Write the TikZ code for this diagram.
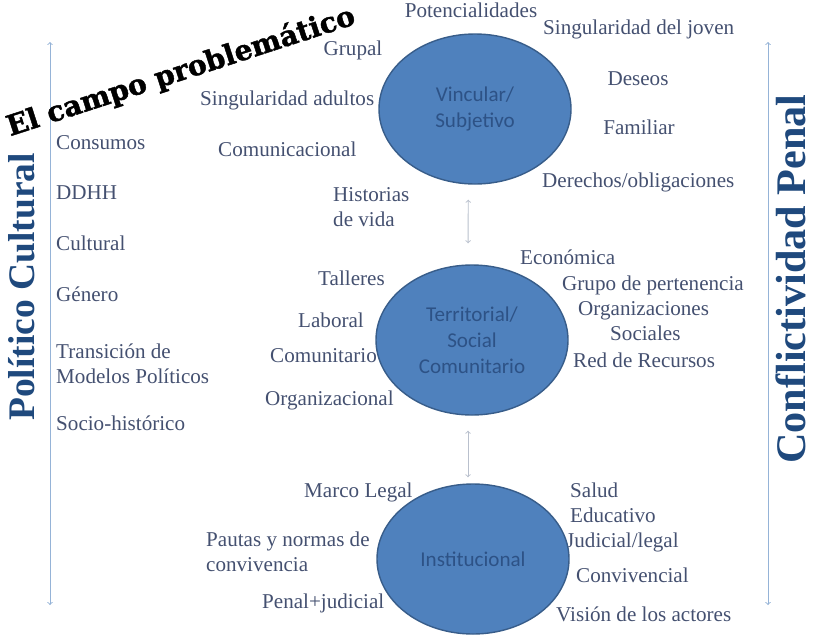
\documentclass[tikz,border=0pt]{standalone}
\usepackage{fontspec}
\setmainfont{Liberation Serif}
\newfontfamily\calib{Carlito}
\newfontfamily\slab[BoldFeatures={FakeBold=1.5}]{DejaVu Serif}
\usepackage{tikz}
\usetikzlibrary{shapes.geometric}
\usetikzlibrary{calc}

\definecolor{lblcol}{RGB}{68,80,112}
\definecolor{blobfill}{RGB}{79,129,189}
\definecolor{blobline}{RGB}{56,93,138}
\definecolor{innercol}{RGB}{45,82,134}
\definecolor{vcol}{RGB}{31,73,125}
\definecolor{axiscol}{RGB}{149,179,215}
\definecolor{linkcol}{RGB}{185,192,205}

\tikzset{
    lbl/.style={font=\fontsize{18}{21.5}\selectfont, text=lblcol, inner sep=0pt, text height=0.72em, text depth=0.22em},
    lbltwo/.style={font=\fontsize{18}{21.5}\selectfont, text=lblcol, inner sep=0pt, align=left},
    blob/.style={ellipse, draw=blobline, fill=blobfill, line width=1.2pt, inner sep=0pt,
        minimum width=5.76cm, minimum height=4.5cm, align=center, text=innercol,
        font=\calib\fontsize{18}{22}\selectfont},
    vlbl/.style={font=\bfseries, text=vcol, inner sep=0pt, text height=0.68em, text depth=0pt, rotate=90},
    axis/.style={<->, draw=axiscol, line width=0.8pt},
    link/.style={<->, draw=linkcol, line width=0.8pt}
}

\begin{document}
\begin{tikzpicture}[x=0.03cm, y=-0.03cm]
    \useasboundingbox (0,0) rectangle (816,638);

    \coordinate (ltop) at (50,42);
    \coordinate (lbot) at (50,605);
    \coordinate (rtop) at (768,42);
    \coordinate (rbot) at (768,605);

    % side axes
    \draw[axis] (ltop) -- (lbot);
    \draw[axis] (rtop) -- (rbot);
    \node[vlbl, font=\bfseries\fontsize{32}{36}\selectfont] (polcul) at (31,287) {Político Cultural};
    \node[vlbl, font=\bfseries\fontsize{36}{40}\selectfont] (confpen) at (802,279) {Conflictividad Penal};

    \node[rotate=18, inner sep=0pt, font=\slab\bfseries\fontsize{24}{28}\selectfont] (titulo) at (181,72) {El campo problemático};

    % left column
    \node[lbl, anchor=west] (consumos) at (56,147) {Consumos};
    \node[lbl, anchor=west] (ddhh) at (56,197) {DDHH};
    \node[lbl, anchor=west] (cultural) at (56,248) {Cultural};
    \node[lbl, anchor=west] (genero) at (56,299) {Género};
    \node[lbltwo, anchor=west] (transicion) at (56,364) {Transición de\\Modelos Políticos};
    \node[lbl, anchor=west] (socio) at (56,428) {Socio-histórico};

    % vincular / subjetivo
    \node[lbl] (potenc) at (471,15) {Potencialidades};
    \node[lbl, anchor=west] (singjov) at (543,32) {Singularidad del joven};
    \node[lbl] (grupal) at (353,53) {Grupal};
    \node[lbl, anchor=west] (singadu) at (200,103) {Singularidad adultos};
    \node[lbl, anchor=west] (comunic) at (218,154) {Comunicacional};
    \node[lbltwo, anchor=west] (historias) at (333,207) {Historias\\de vida};
    \node[lbl] (deseos) at (638,83) {Deseos};
    \node[lbl] (familiar) at (639,132) {Familiar};
    \node[lbl, anchor=west] (derechos) at (542,185) {Derechos/obligaciones};

    % territorial / social
    \node[lbl, anchor=west] (economica) at (520,262) {Económica};
    \node[lbl, anchor=west] (talleres) at (318,283) {Talleres};
    \node[lbl, anchor=west] (grupo) at (562,288) {Grupo de pertenencia};
    \node[lbl, anchor=west] (orgs) at (578,313) {Organizaciones};
    \node[lbl, anchor=west] (sociales) at (610,338) {Sociales};
    \node[lbl, anchor=west] (laboral) at (298,325) {Laboral};
    \node[lbl, anchor=west] (comunit) at (270,360) {Comunitario};
    \node[lbl, anchor=west] (redrec) at (573,365) {Red de Recursos};
    \node[lbl, anchor=west] (orgzac) at (265,403) {Organizacional};

    % institucional
    \node[lbl, anchor=west] (marco) at (304,495) {Marco Legal};
    \node[lbltwo, anchor=west] (pautas) at (206,552) {Pautas y normas de\\convivencia};
    \node[lbl, anchor=west] (penaljud) at (262,606) {Penal+judicial};
    \node[lbl, anchor=west] (salud) at (570,495) {Salud};
    \node[lbl, anchor=west] (educ) at (570,520) {Educativo};
    \node[lbl, anchor=west] (judic) at (566,545) {Judicial/legal};
    \node[lbl, anchor=west] (conviv) at (576,580) {Convivencial};
    \node[lbl, anchor=west] (vision) at (556,619) {Visión de los actores};

    \node[blob] (vinc) at (475,109) {Vincular/\\Subjetivo};
    \node[blob] (terr) at (472,340) {Territorial/\\Social\\Comunitario};
    \node[blob] (inst) at (473,559) {Institucional};

    \draw[link, shorten <=0.45cm, shorten >=0.63cm] ([xshift=-0.2cm]vinc.south) -- ([xshift=-0.12cm]terr.north);
    \draw[link, shorten <=0.45cm, shorten >=0.18cm] ([xshift=-0.12cm]terr.south) -- ([xshift=-0.15cm]inst.north);
\end{tikzpicture}
\end{document}
